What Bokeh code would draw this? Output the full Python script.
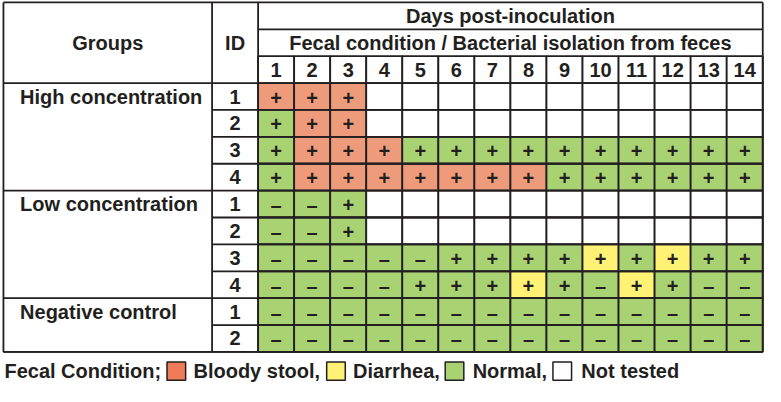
from bokeh.plotting import figure
from bokeh.models import Range1d
from bokeh.core.properties import value
from bokeh.embed import file_html
from bokeh.resources import INLINE

# ---------------- data ----------------
days = list(range(1, 15))
groups = ["High concentration", "Low concentration", "Negative control"]
group_ids = [[1, 2, 3, 4], [1, 2, 3, 4], [1, 2]]

# Fecal condition: B = bloody stool, D = diarrhea, N = normal, . = not tested
condition = [
    "BBB...........",
    "NBB...........",
    "NBBBNNNNNNNNNN",
    "NBBBBBBBNNNNNN",
    "NNN...........",
    "NNN...........",
    "NNNNNNNNNDNDNN",
    "NNNNNNNDNNDNNN",
    "NNNNNNNNNNNNNN",
    "NNNNNNNNNNNNNN",
]
# Bacterial isolation from feces: + positive, - negative, . not tested
isolation = [
    "+++...........",
    "+++...........",
    "++++++++++++++",
    "++++++++++++++",
    "--+...........",
    "--+...........",
    "-----+++++++++",
    "----+++++-++--",
    "--------------",
    "--------------",
]
legend_codes = ["B", "D", "N", "."]
legend_labels = ["Bloody stool,", "Diarrhea,", "Normal,", "Not tested"]
legend_title = "Fecal Condition;"

# ---------------- style ----------------
cell_colors = {"B": "#EE9B7B", "D": "#FFF275", "N": "#A9D373", ".": "#FFFFFF"}
swatch_colors = {"B": "#EE7B5A", "D": "#FFF275", "N": "#A9D373", ".": "#FFFFFF"}
sign_text = {"+": "+", "-": "\u2013", ".": ""}
INK = "#231F20"
FONT = value("Liberation Sans")
LW = 1.8
FS = "20px"


def fx(px):  # reference-pixel layout helper -> x units (1 unit = one day column)
    return (px - 263) / 36.8 + 0.5


def fy(py):  # reference-pixel layout helper -> y units (1 unit = one row)
    return (py - 86) / 28 - 0.5


LEFT = fx(3)
ID_L = fx(216)
DAY_L = 0.5
RIGHT = days[-1] + 0.5
TOP = -3.5
BOTTOM = len(condition) - 0.5

p = figure(width=765, height=386,
           x_range=Range1d(fx(0), fx(781)), y_range=Range1d(fy(402), fy(0)),
           output_backend="svg", toolbar_location=None, min_border=0)
p.axis.visible = False
p.grid.visible = False
p.outline_line_color = None
p.background_fill_color = "white"
p.border_fill_color = "white"

# ---------------- cells ----------------
cl, cr, ct, cb, cc, sx, sy, st = [], [], [], [], [], [], [], []
for r, (crow, irow) in enumerate(zip(condition, isolation)):
    for d, c, s in zip(days, crow, irow):
        cl.append(d - 0.5); cr.append(d + 0.5)
        ct.append(r - 0.5); cb.append(r + 0.5)
        cc.append(cell_colors[c])
        sx.append(d); sy.append(r); st.append(sign_text[s])
p.quad(left=cl, right=cr, top=ct, bottom=cb, fill_color=cc,
       line_color=INK, line_width=LW)

# header cells for days
p.quad(left=[d - 0.5 for d in days], right=[d + 0.5 for d in days],
       top=[-1.5] * len(days), bottom=[-0.5] * len(days),
       fill_color="white", line_color=INK, line_width=LW)

# ---------------- other grid lines ----------------
x0, y0, x1, y1 = [], [], [], []
def seg(a, b, c, d):
    x0.append(a); y0.append(b); x1.append(c); y1.append(d)

seg(LEFT, TOP, RIGHT, TOP)
seg(LEFT, BOTTOM, RIGHT, BOTTOM)
seg(LEFT, TOP, LEFT, BOTTOM)
seg(RIGHT, TOP, RIGHT, BOTTOM)
seg(ID_L, TOP, ID_L, BOTTOM)
seg(DAY_L, TOP, DAY_L, BOTTOM)
seg(DAY_L, -2.5, RIGHT, -2.5)
seg(LEFT, -0.5, RIGHT, -0.5)
row = 0
for gi, ids in enumerate(group_ids):
    for k in range(len(ids)):
        yb = row + 0.5
        if k == len(ids) - 1:
            seg(LEFT, yb, RIGHT, yb)
        else:
            seg(ID_L, yb, RIGHT, yb)
        row += 1
p.segment(x0=x0, y0=y0, x1=x1, y1=y1, line_color=INK, line_width=LW)

# ---------------- texts ----------------
p.text(x=sx, y=sy, text=st, text_font=FONT, text_font_style="bold",
       text_font_size="20px", text_align="center", text_baseline="middle",
       text_color=INK, y_offset=1)

hx = [(LEFT + ID_L) / 2, (ID_L + DAY_L) / 2, (DAY_L + RIGHT) / 2, (DAY_L + RIGHT) / 2]
hy = [-2.0, -2.0, -3.0, -2.0]
ht = ["Groups", "ID", "Days post-inoculation",
      "Fecal condition / Bacterial isolation from feces"]
p.text(x=hx, y=hy, text=ht, text_font=FONT, text_font_style="bold",
       text_font_size=FS, text_align="center", text_baseline="middle",
       text_color=INK)
p.text(x=days, y=[-1.0] * len(days), text=[str(d) for d in days],
       text_font=FONT, text_font_style="bold", text_font_size=FS,
       text_align="center", text_baseline="middle", text_color=INK)

gx, gy, gt, ix, iy, it = [], [], [], [], [], []
row = 0
for g, ids in zip(groups, group_ids):
    gx.append(fx(20)); gy.append(row); gt.append(g)
    for i in ids:
        ix.append((ID_L + DAY_L) / 2); iy.append(row); it.append(str(i))
        row += 1
p.text(x=gx, y=gy, text=gt, text_font=FONT, text_font_style="bold",
       text_font_size=FS, text_align="left", text_baseline="middle",
       text_color=INK)
p.text(x=ix, y=iy, text=it, text_font=FONT, text_font_style="bold",
       text_font_size=FS, text_align="center", text_baseline="middle",
       text_color=INK)

# ---------------- legend ----------------
ly = fy(386)
sw_left = [fx(v) for v in (170, 333, 454, 564)]
lab_left = [fx(v) for v in (197, 360, 482, 593)]
sw_w = 19 / 36.8
sw_h = 19 / 28
p.quad(left=sw_left, right=[v + sw_w for v in sw_left],
       top=[ly - sw_h / 2] * 4, bottom=[ly + sw_h / 2] * 4,
       fill_color=[swatch_colors[c] for c in legend_codes],
       line_color=INK, line_width=1.5)
p.text(x=[fx(4)] + lab_left, y=[ly] * 5, text=[legend_title] + legend_labels,
       text_font=FONT, text_font_style="bold", text_font_size=FS,
       text_align="left", text_baseline="middle", text_color=INK)

open("out.html", "w").write(file_html(p, INLINE))
